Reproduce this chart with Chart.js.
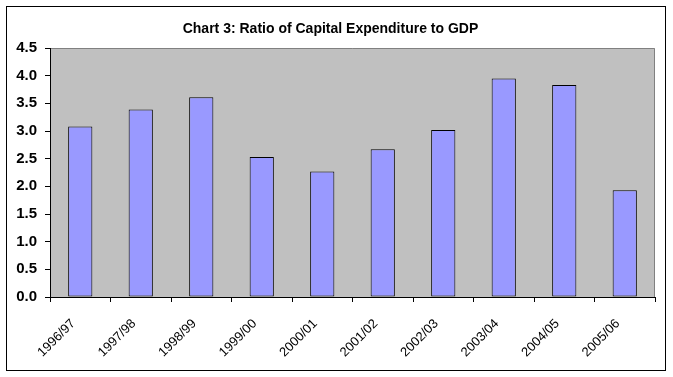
<!DOCTYPE html>
<html>
<head>
<meta charset="utf-8">
<script src="https://cdn.jsdelivr.net/npm/chart.js@4"></script>
<style>
  html, body { margin: 0; padding: 0; background: #fff; }
  #wrap { width: 673px; height: 377px; }
</style>
</head>
<body>
<div id="wrap"><canvas id="chart" width="673" height="377"></canvas></div>
<script>
// Data
const years = ['1996/97', '1997/98', '1998/99', '1999/00', '2000/01',
               '2001/02', '2002/03', '2003/04', '2004/05', '2005/06'];
const ratio = [3.08, 3.39, 3.61, 2.53, 2.27, 2.67, 3.02, 3.95, 3.83, 1.93];
const yTicks = [0.0, 0.5, 1.0, 1.5, 2.0, 2.5, 3.0, 3.5, 4.0, 4.5];

// grey plot area + outer frame like the excel export
const frame = {
    id: 'frame',
    beforeDraw(chart) {
        const { ctx, chartArea: a } = chart;
        ctx.save();
        ctx.fillStyle = '#fff';
        ctx.fillRect(0, 0, chart.width, chart.height);
        ctx.fillStyle = '#C0C0C0';
        ctx.fillRect(a.left, a.top, a.right - a.left, a.bottom - a.top);
        ctx.strokeStyle = '#808080';
        ctx.lineWidth = 1;
        ctx.beginPath();
        ctx.moveTo(a.left, a.top + 0.5);
        ctx.lineTo(a.right - 0.5, a.top + 0.5);
        ctx.lineTo(a.right - 0.5, a.bottom);
        ctx.stroke();
        ctx.restore();
    },
    afterDraw(chart) {
        const ctx = chart.ctx;
        ctx.save();
        ctx.strokeStyle = '#000';
        ctx.lineWidth = 1;
        ctx.strokeRect(6.5, 6.5, 659, 364);
        ctx.restore();
    }
};

const ctx = document.getElementById('chart');
new Chart(ctx, {
    type: 'bar',
    data: {
        labels: years,
        datasets: [{
            label: 'Ratio',
            data: ratio,
            backgroundColor: '#9999FF',
            borderColor: '#000',
            borderWidth: 1,
            borderSkipped: false,
            barPercentage: 0.4,
            categoryPercentage: 1.0
        }]
    },
    options: {
        responsive: false,
        animation: false,
        layout: { padding: { left: 6, right: 18, top: 0, bottom: 0 } },
        plugins: {
            legend: { display: false },
            tooltip: { enabled: false },
            title: {
                display: true,
                text: 'Chart 3: Ratio of Capital Expenditure to GDP',
                color: '#000',
                font: { family: 'Arial, "Liberation Sans"', size: 14, weight: 'bold' },
                padding: { top: 21, bottom: 10.2 }
            }
        },
        scales: {
            x: {
                offset: true,
                grid: {
                    offset: true,
                    drawOnChartArea: false,
                    tickLength: 5,
                    color: '#000'
                },
                border: { color: '#000', width: 1 },
                ticks: {
                    color: '#000',
                    minRotation: 45,
                    maxRotation: 45,
                    padding: 14,
                    labelOffset: -7,
                    font: { family: 'Arial, "Liberation Sans"', size: 13 }
                },
                afterFit(scale) {
                    scale.height = 80;
                    scale.paddingLeft = 0;
                    scale.paddingRight = 0;
                }
            },
            y: {
                min: 0,
                max: 4.5,
                afterBuildTicks(scale) {
                    scale.ticks = yTicks.map(v => ({ value: v }));
                },
                grid: {
                    drawOnChartArea: false,
                    tickLength: 5,
                    color: '#000'
                },
                border: { color: '#000', width: 1 },
                ticks: {
                    color: '#000',
                    padding: 8,
                    font: { family: 'Arial, "Liberation Sans"', size: 15, weight: 'bold' },
                    callback: v => Number(v).toFixed(1)
                },
                afterFit(scale) {
                    scale.width = 44;
                }
            }
        }
    },
    plugins: [frame]
});
</script>
</body>
</html>
